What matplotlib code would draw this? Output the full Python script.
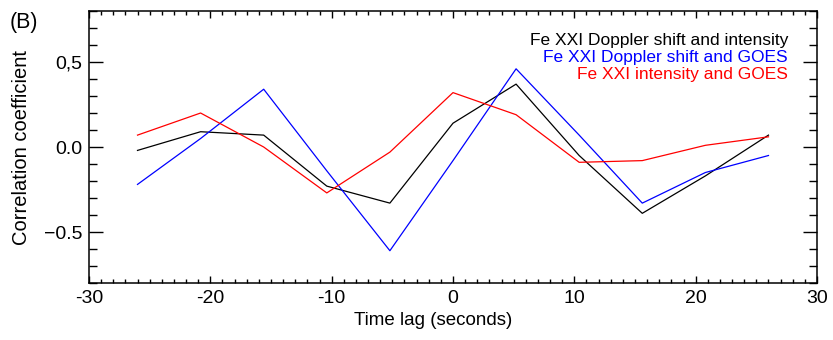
import matplotlib
matplotlib.use("Agg")
import matplotlib.pyplot as plt
from matplotlib.ticker import MultipleLocator

#############################################################################################
# data
lag = [-26.0, -20.8, -15.6, -10.4, -5.2, 0.0, 5.2, 10.4, 15.6, 20.8, 26.0]
doppler_intensity = [-0.02, 0.09, 0.07, -0.23, -0.33, 0.14, 0.37, -0.05, -0.39, -0.17, 0.07]
doppler_goes = [-0.22, 0.05, 0.34, -0.14, -0.61, -0.08, 0.46, 0.07, -0.33, -0.15, -0.05]
intensity_goes = [0.07, 0.20, 0.00, -0.27, -0.03, 0.32, 0.19, -0.09, -0.08, 0.01, 0.06]

labels = ["Fe XXI Doppler shift and intensity",
          "Fe XXI Doppler shift and GOES",
          "Fe XXI intensity and GOES"]
colors = ["black", "blue", "red"]

xticks = [-30, -20, -10, 0, 10, 20, 30]
xticklabels = ["-30", "-20", "-10", "0", "10", "20", "30"]
yticks = [-0.5, 0.0, 0.5]
yticklabels = ["\u22120.5", "0.0", "0,5"]

#############################################################################################
plt.rcParams['font.family'] = ['Liberation Sans', 'DejaVu Sans']
plt.rcParams['font.size'] = 14

fig = plt.figure(figsize=(8.33, 3.4), dpi=100)
ax = fig.add_axes([0.1068, 0.1676, 0.8740, 0.8000])

series = [doppler_intensity, doppler_goes, intensity_goes]
for values, col in zip(series, colors):
    ax.plot(lag, values, color=col, lw=0.9)

ax.set_xlim(-30, 30)
ax.set_ylim(-0.8, 0.8)
ax.set_xticks(xticks)
ax.set_xticklabels(xticklabels)
ax.set_yticks(yticks)
ax.set_yticklabels(yticklabels)
ax.xaxis.set_minor_locator(MultipleLocator(1))
ax.yaxis.set_minor_locator(MultipleLocator(0.1))

ax.tick_params(axis='both', which='both', direction='in', top=True, right=True, width=1.0,
               labelsize=14)
ax.tick_params(axis='x', which='major', length=5, pad=5)
ax.tick_params(axis='x', which='minor', length=3)
ax.tick_params(axis='y', which='major', length=10, pad=5)
ax.tick_params(axis='y', which='minor', length=6)
for sp in ax.spines.values():
    sp.set_linewidth(1.1)

# legend as coloured, right aligned text
for i, (lab, col) in enumerate(zip(labels, colors)):
    ax.text(0.96, 0.891 - i * 0.0625, lab, color=col, ha='right', va='center',
            fontsize=12.5, transform=ax.transAxes)

fig.text(0.012, 0.965, "(B)", fontsize=15.5, ha='left', va='top')
fig.text(0.026, 0.565, "Correlation coefficient", rotation=90, ha='center', va='center',
         fontsize=14.5)
fig.text(0.52, 0.058, "Time lag (seconds)", ha='center', va='center', fontsize=13.5)

fig.savefig("out.png", dpi=100)
plt.close()
